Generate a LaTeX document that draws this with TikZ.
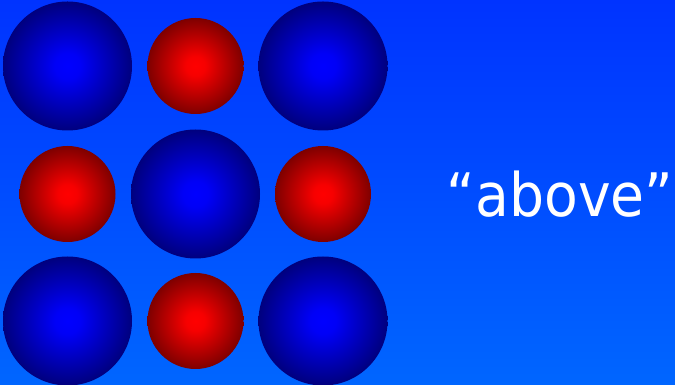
\documentclass[tikz,border=0pt]{standalone}
\usepackage{fontspec}
\newfontfamily\labelfont[FakeStretch=0.92]{DejaVu Sans}
\definecolor{bgtop}{HTML}{0033FF}
\definecolor{bgbot}{HTML}{0066FF}
\definecolor{ballblue}{HTML}{0000FF}
\definecolor{balldarkblue}{HTML}{00005A}
\definecolor{ballred}{HTML}{FF0000}
\definecolor{balldarkred}{HTML}{5A0000}
\pgfdeclareradialshading{blueballshade}{\pgfpoint{0bp}{0bp}}{color(0bp)=(ballblue); color(5bp)=(ballblue!95!balldarkblue); color(31bp)=(balldarkblue); color(100bp)=(balldarkblue)}
\pgfdeclareradialshading{redballshade}{\pgfpoint{0bp}{0bp}}{color(0bp)=(ballred); color(5bp)=(ballred!95!balldarkred); color(31bp)=(balldarkred); color(100bp)=(balldarkred)}
\tikzset{
  bigball/.style={circle, inner sep=0pt, minimum size=129pt, shading=blueballshade},
  smallball/.style={circle, inner sep=0pt, minimum size=96pt, shading=redballshade},
  wordlabel/.style={text=white, font=\labelfont\fontsize{60}{66}\selectfont, inner sep=0pt}
}
\begin{document}
\begin{tikzpicture}[x=1pt,y=1pt]
\useasboundingbox (0,0) rectangle (675,385);
\shade[top color=bgtop, bottom color=bgbot] (0,0) rectangle (675,385);
\node[bigball] (b1) at (67.5,319) {};
\node[smallball] (r1) at (195.5,319) {};
\node[bigball] (b2) at (323,319) {};
\node[smallball] (r2) at (67.5,191) {};
\node[bigball] (b3) at (195.5,191) {};
\node[smallball] (r3) at (323,191) {};
\node[bigball] (b4) at (67.5,64) {};
\node[smallball] (r4) at (195.5,64) {};
\node[bigball] (b5) at (323,64) {};
\node[wordlabel] (above) at (560,191) {“above”};
\end{tikzpicture}
\end{document}
